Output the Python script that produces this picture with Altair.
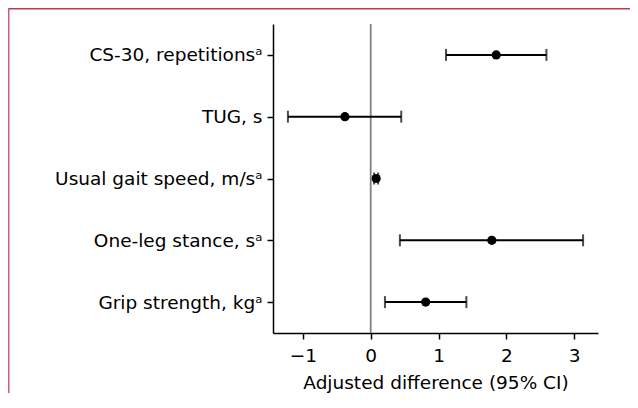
import altair as alt
import pandas as pd

categories = [
    "CS-30, repetitionsᵃ",
    "TUG, s",
    "Usual gait speed, m/sᵃ",
    "One-leg stance, sᵃ",
    "Grip strength, kgᵃ",
]
estimates = [1.85, -0.38, 0.08, 1.785, 0.81]
lower = [1.11, -1.22, 0.05, 0.43, 0.21]
upper = [2.59, 0.45, 0.11, 3.13, 1.41]
x_ticks = [-1, 0, 1, 2, 3]
x_domain = [-1.44, 3.35]
x_title = "Adjusted difference (95% CI)"

df = pd.DataFrame({"cat": categories, "est": estimates, "lo": lower, "hi": upper})
zero_df = pd.DataFrame({"x": [0]})
one_df = pd.DataFrame({"a": [0]})

FONT = "DejaVu Sans"
FS = 18.5
W, H = 325, 309
PAD_L, PAD_T, PAD_R, PAD_B = 265, 16, 32, 60

xscale = alt.Scale(domain=x_domain, nice=False, zero=False)
yscale = alt.Scale(type="point", padding=0.5)

y_enc = alt.Y(
    "cat:N",
    sort=categories,
    scale=yscale,
    axis=alt.Axis(title=None, labelFontSize=FS, labelFont=FONT, labelColor="black",
                  labelPadding=5, tickSize=6, tickWidth=1.5, tickColor="black",
                  domainColor="black", domainWidth=1.5, grid=False, labelLimit=400),
)
x_axis = alt.Axis(values=x_ticks, format="d", title=x_title, titleFontSize=FS, titleFont=FONT,
                  titleFontWeight="normal", titleColor="black", titlePadding=9,
                  labelFontSize=FS, labelFont=FONT, labelColor="black", labelPadding=7,
                  tickSize=6, tickWidth=1.5, tickColor="black",
                  domainColor="black", domainWidth=1.5, grid=False)

base = alt.Chart(df)

zero_line = alt.Chart(zero_df).mark_rule(color="#808080", strokeWidth=1.8).encode(
    x=alt.X("x:Q", scale=xscale, axis=x_axis)
)

ci = base.mark_rule(color="black", strokeWidth=2).encode(
    x=alt.X("lo:Q", scale=xscale), x2="hi:Q", y=y_enc
)
cap_lo = base.mark_tick(color="black", orient="vertical", size=12, thickness=2).encode(
    x=alt.X("lo:Q", scale=xscale), y=alt.Y("cat:N", sort=categories, scale=yscale)
)
cap_hi = base.mark_tick(color="black", orient="vertical", size=12, thickness=2).encode(
    x=alt.X("hi:Q", scale=xscale), y=alt.Y("cat:N", sort=categories, scale=yscale)
)
points = base.mark_circle(color="black", opacity=1, size=85).encode(
    x=alt.X("est:Q", scale=xscale), y=alt.Y("cat:N", sort=categories, scale=yscale)
)

border_top = alt.Chart(one_df).mark_rule(color="#c0394f", strokeWidth=2, clip=False).encode(
    x=alt.value(-PAD_L), x2=alt.value(W + PAD_R + 60), y=alt.value(-PAD_T + 0.5)
)
border_left = alt.Chart(one_df).mark_rule(color="#c8607a", strokeWidth=2, clip=False).encode(
    x=alt.value(-PAD_L + 0.5), y=alt.value(-PAD_T), y2=alt.value(H + PAD_B + 60)
)

chart = alt.layer(zero_line, ci, cap_lo, cap_hi, points, border_top, border_left).properties(
    width=W, height=H,
    autosize=alt.AutoSizeParams(type="none"),
    padding={"left": PAD_L, "top": PAD_T, "right": PAD_R, "bottom": PAD_B},
    background="white",
).configure_view(stroke=None)

chart.save("out.html", embed_options={"renderer": "svg", "actions": False})
